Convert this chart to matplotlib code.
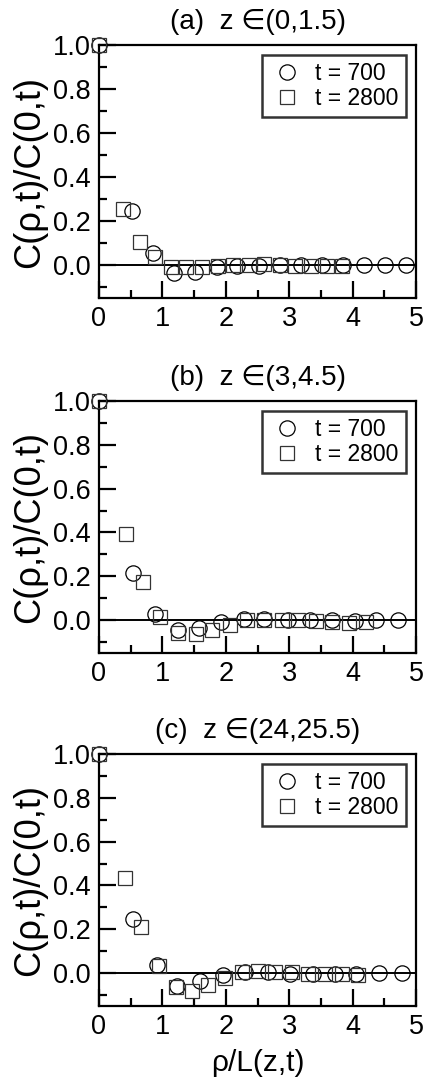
import matplotlib
matplotlib.use("Agg")
import matplotlib.pyplot as plt
from matplotlib.ticker import MultipleLocator, FormatStrFormatter

plt.rcParams['font.family'] = ['Liberation Sans', 'DejaVu Sans']

titles = ["(a)  z \u2208(0,1.5)", "(b)  z \u2208(3,4.5)", "(c)  z \u2208(24,25.5)"]
legend_labels = ["t = 700", "t = 2800"]
ylabel_text = "C(\u03c1,t)/C(0,t)"
xlabel_text = "\u03c1/L(z,t)"

# panel (a)
a_x700 = [0, 0.52, 0.85, 1.19, 1.51, 1.86, 2.18, 2.52, 2.85, 3.19, 3.52, 3.85, 4.18, 4.51, 4.84]
a_y700 = [1.0, 0.245, 0.055, -0.035, -0.03, -0.01, -0.005, -0.003, 0.0, 0.0, 0.0, 0.0, 0.0, 0.0, 0.0]
a_x2800 = [0, 0.38, 0.64, 0.88, 1.13, 1.37, 1.62, 1.87, 2.12, 2.37, 2.60, 2.85, 3.09, 3.35, 3.59, 3.84]
a_y2800 = [1.0, 0.255, 0.105, 0.035, -0.01, -0.01, -0.01, -0.005, 0.0, 0.0, 0.003, 0.0, -0.005, -0.005, -0.005, -0.005]

# panel (b)
b_x700 = [0, 0.53, 0.88, 1.24, 1.57, 1.92, 2.29, 2.60, 2.98, 3.33, 3.68, 4.03, 4.37, 4.72]
b_y700 = [1.0, 0.213, 0.03, -0.046, -0.035, -0.01, 0.005, 0.005, 0.0, 0.0, 0.0, -0.003, 0.0, 0.0]
b_x2800 = [0, 0.425, 0.70, 0.97, 1.24, 1.53, 1.79, 2.06, 2.33, 2.60, 2.88, 3.14, 3.42, 3.68, 3.95, 4.21]
b_y2800 = [1.0, 0.392, 0.175, 0.015, -0.06, -0.065, -0.046, -0.023, 0.0, 0.0, 0.0, 0.0, -0.005, -0.01, -0.015, -0.01]

# panel (c)
c_x700 = [0, 0.54, 0.91, 1.235, 1.60, 1.96, 2.30, 2.66, 3.01, 3.37, 3.72, 4.06, 4.42, 4.78]
c_y700 = [1.0, 0.245, 0.036, -0.058, -0.038, -0.01, 0.006, 0.003, -0.002, -0.002, -0.002, -0.002, 0.0, 0.0]
c_x2800 = [0, 0.41, 0.67, 0.94, 1.21, 1.46, 1.72, 1.99, 2.25, 2.51, 2.78, 3.04, 3.30, 3.56, 3.83, 4.09]
c_y2800 = [1.0, 0.432, 0.212, 0.033, -0.065, -0.083, -0.055, -0.02, 0.006, 0.01, 0.006, 0.003, -0.002, -0.005, -0.005, -0.01]

panels = [
    (a_x700, a_y700, a_x2800, a_y2800),
    (b_x700, b_y700, b_x2800, b_y2800),
    (c_x700, c_y700, c_x2800, c_y2800),
]

W, H = 424, 1081
fig = plt.figure(figsize=(W / 100, H / 100), dpi=100)

tops = [45, 401, 754]
bottoms = [298, 653, 1006]
left_px, right_px = 99, 416

axes = []
for i, (x1, y1, x2, y2) in enumerate(panels):
    ax = fig.add_axes([left_px / W, 1 - bottoms[i] / H, (right_px - left_px) / W,
                       (bottoms[i] - tops[i]) / H])
    axes.append(ax)
    ax.axhline(0, color='black', lw=1.4, zorder=1)
    ax.plot(x1, y1, linestyle='none', marker='o', markersize=11, markerfacecolor='none',
            markeredgecolor='black', markeredgewidth=0.9, clip_on=False, zorder=3,
            label=legend_labels[0])
    ax.plot(x2, y2, linestyle='none', marker='s', markersize=9.5, markerfacecolor='none',
            markeredgecolor='#333333', markeredgewidth=0.9, clip_on=False, zorder=3,
            label=legend_labels[1])
    ax.set_xlim(0, 5)
    ax.set_ylim(-0.15, 1.0)
    ax.xaxis.set_major_locator(MultipleLocator(1))
    ax.xaxis.set_minor_locator(MultipleLocator(0.5))
    ax.yaxis.set_major_locator(MultipleLocator(0.2))
    ax.yaxis.set_minor_locator(MultipleLocator(0.1))
    ax.yaxis.set_major_formatter(FormatStrFormatter('%.1f'))
    ax.tick_params(which='both', direction='in', top=False, right=False, width=1.6,
                   labelsize=19.5)
    ax.tick_params(which='major', length=12, pad=6)
    ax.tick_params(which='minor', length=6)
    for sp in ax.spines.values():
        sp.set_linewidth(1.6)
    ax.set_title(titles[i], fontsize=20, pad=11.5)
    ax.set_ylabel(ylabel_text, fontsize=21.5)
    ax.yaxis.set_label_coords(-0.165, 0.5)
    leg = ax.legend(loc='upper right', fontsize=16.5, frameon=True, fancybox=False,
                    borderaxespad=0.45, handletextpad=0.45, borderpad=0.3,
                    labelspacing=0.1, handlelength=1.6)
    leg.get_frame().set_edgecolor('black')
    leg.get_frame().set_linewidth(1.8)
    if i == 2:
        ax.set_xlabel(xlabel_text, fontsize=21.5)
        ax.xaxis.set_label_coords(0.5, -0.17)

# fit the y-label length to the reference (about 192 px)
fig.canvas.draw()
renderer = fig.canvas.get_renderer()
for ax in axes:
    lab = ax.yaxis.label
    h = lab.get_window_extent(renderer).height
    lab.set_fontsize(lab.get_fontsize() * 192.0 / h)

fig.savefig("out.png", dpi=100)
